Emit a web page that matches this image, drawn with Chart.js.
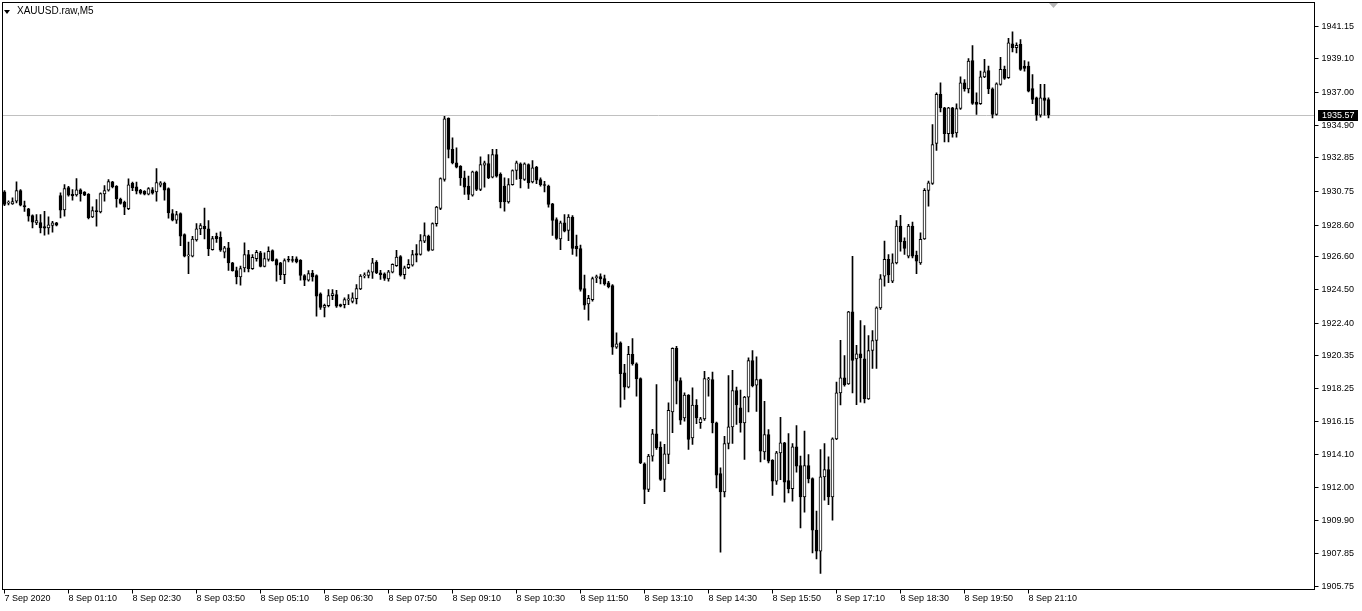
<!DOCTYPE html>
<html>
<head>
<meta charset="utf-8">
<title>XAUUSD.raw,M5</title>
<script src="https://cdn.jsdelivr.net/npm/chart.js@4.4.0/dist/chart.umd.min.js"></script>
<style>
    html, body { margin: 0; padding: 0; background: #fff; }
    #wrap { position: relative; width: 1362px; height: 611px; }
    #priceChart { display: block; }
    #symbol { position: absolute; left: 17px; top: 5px; font: 10px "Liberation Sans", Arial, sans-serif; color: #000; white-space: nowrap; }
    #arrow { position: absolute; left: 4px; top: 10px; width: 0; height: 0;
        border-left: 3.5px solid transparent; border-right: 3.5px solid transparent; border-top: 4px solid #000; }
</style>
</head>
<body>
<div id="wrap">
    <canvas id="priceChart" width="1362" height="611"></canvas>
    <div id="arrow"></div>
    <div id="symbol">XAUUSD.raw,M5</div>
</div>
<script>
// M5 candles (first bar 7 Sep 23:50)
const opens = [
    1930.70,1929.99,1929.94,1930.11,1930.78,1929.83,1929.62,1929.20,1928.74,1928.76,
    1928.50,1928.42,1928.57,1928.74,1930.46,1929.56,1930.97,1930.55,1930.51,1930.82,
    1930.68,1930.55,1929.12,1929.52,1929.43,1930.57,1930.80,1931.33,1931.05,1930.25,
    1930.04,1929.64,1931.24,1931.01,1930.80,1930.74,1930.55,1930.82,1930.70,1931.12,
    1931.24,1930.91,1929.33,1928.91,1929.33,1928.00,1926.65,1926.63,1927.66,1928.36,
    1928.52,1928.36,1927.05,1927.89,1927.83,1926.88,1927.16,1926.21,1925.72,1925.32,
    1925.89,1926.73,1925.85,1926.48,1926.84,1925.99,1926.42,1926.99,1926.42,1926.21,
    1925.47,1926.42,1926.38,1926.46,1926.37,1925.41,1925.11,1925.57,1925.41,1924.25,
    1923.40,1923.51,1924.14,1924.20,1923.57,1923.57,1923.85,1923.78,1923.94,1924.57,
    1925.39,1925.41,1925.62,1926.25,1925.58,1925.52,1925.20,1925.62,1926.04,1926.61,
    1925.47,1925.90,1926.06,1926.80,1926.74,1927.58,1927.90,1927.01,1928.68,1929.65,
    1931.48,1935.34,1933.38,1932.53,1932.32,1931.58,1931.06,1930.49,1931.96,1930.85,
    1932.39,1932.49,1931.63,1933.06,1931.80,1931.06,1930.07,1931.16,1932.05,1932.47,
    1931.48,1932.43,1931.33,1932.26,1931.48,1931.14,1931.06,1929.94,1928.95,1927.73,
    1928.74,1928.26,1929.10,1927.27,1927.12,1924.59,1923.62,1923.89,1925.28,1925.35,
    1925.22,1924.95,1924.78,1920.88,1921.16,1919.26,1918.35,1920.42,1919.83,1918.90,
    1913.51,1911.88,1913.99,1915.40,1914.56,1912.52,1914.10,1916.79,1920.80,1918.77,
    1916.41,1917.85,1915.15,1917.22,1916.10,1916.35,1918.81,1918.83,1916.09,1912.89,
    1911.73,1914.79,1915.84,1918.14,1917.04,1916.09,1917.72,1920.03,1918.47,1918.83,
    1914.26,1915.36,1913.73,1912.41,1914.20,1914.83,1912.45,1911.94,1914.58,1913.40,
    1911.42,1913.40,1912.57,1909.31,1907.98,1912.68,1913.14,1911.42,1915.08,1917.99,
    1918.94,1918.56,1923.11,1920.14,1920.46,1920.14,1917.61,1920.67,1921.30,1923.36,
    1925.37,1926.43,1925.06,1926.21,1928.53,1927.58,1926.64,1928.53,1926.70,1926.21,
    1927.73,1930.79,1931.23,1933.76,1936.86,1936.01,1934.37,1936.01,1934.43,1935.97,
    1937.59,1937.21,1939.00,1936.37,1936.27,1937.97,1938.37,1937.21,1935.59,1937.49,
    1938.44,1937.91,1940.06,1939.81,1940.02,1938.65,1938.65,1937.23,1936.65,1935.55,
    1936.65,1936.54
];
const highs = [
    1930.78,1930.13,1930.32,1931.33,1930.84,1930.11,1929.66,1929.24,1929.26,1929.26,
    1929.47,1929.12,1928.84,1928.78,1930.63,1931.16,1931.05,1930.84,1931.54,1930.89,
    1930.72,1930.59,1929.75,1930.21,1930.63,1931.10,1931.48,1931.37,1931.10,1930.30,
    1930.11,1931.52,1931.31,1931.31,1930.86,1930.78,1930.97,1930.97,1932.17,1931.35,
    1931.31,1930.95,1929.58,1929.47,1929.37,1928.04,1927.53,1927.89,1928.69,1928.69,
    1929.68,1928.88,1927.89,1928.10,1928.17,1927.26,1927.51,1926.25,1925.95,1926.00,
    1927.47,1927.01,1926.73,1927.01,1926.94,1926.84,1927.22,1927.03,1926.46,1926.25,
    1926.46,1926.63,1926.63,1926.59,1926.42,1925.47,1925.72,1925.74,1925.45,1924.31,
    1923.61,1924.52,1924.52,1924.48,1923.61,1924.00,1924.21,1924.31,1924.84,1925.47,
    1925.58,1925.75,1926.49,1926.36,1925.73,1925.58,1925.73,1926.15,1927.01,1926.67,
    1926.00,1926.42,1927.01,1927.37,1928.00,1928.74,1927.96,1928.74,1929.79,1931.58,
    1935.48,1935.38,1934.11,1933.48,1932.36,1932.01,1931.69,1932.01,1932.01,1932.91,
    1932.64,1933.06,1933.38,1933.38,1931.90,1931.58,1931.54,1932.09,1932.64,1932.53,
    1932.53,1932.47,1932.68,1932.32,1931.58,1931.37,1931.12,1929.98,1929.06,1928.85,
    1929.27,1929.27,1929.20,1927.96,1927.33,1925.43,1924.15,1925.31,1925.43,1925.52,
    1925.43,1925.05,1924.84,1921.79,1921.22,1919.79,1920.94,1921.43,1919.89,1918.94,
    1913.57,1914.10,1915.68,1918.52,1914.90,1914.73,1917.36,1920.84,1920.94,1918.94,
    1917.99,1917.89,1918.31,1917.57,1916.45,1919.36,1918.98,1919.30,1916.14,1913.25,
    1915.25,1919.09,1919.42,1918.35,1918.16,1917.78,1920.20,1920.67,1920.27,1918.87,
    1917.46,1915.67,1913.78,1914.30,1916.45,1914.87,1915.42,1914.79,1915.92,1913.99,
    1915.57,1914.09,1912.62,1910.51,1914.41,1914.79,1913.94,1915.15,1918.68,1921.32,
    1920.35,1923.15,1926.63,1921.00,1922.56,1922.25,1921.61,1921.93,1923.43,1925.47,
    1927.58,1926.74,1926.78,1928.89,1929.21,1927.79,1928.64,1928.79,1926.95,1928.11,
    1930.91,1931.38,1934.96,1936.96,1937.59,1936.05,1936.05,1936.05,1936.27,1937.97,
    1937.80,1939.13,1939.95,1936.96,1938.33,1939.07,1938.65,1937.28,1937.59,1939.21,
    1938.65,1940.40,1940.82,1940.12,1940.33,1939.00,1938.92,1938.12,1936.69,1937.49,
    1937.49,1936.65
];
const lows = [
    1929.83,1929.87,1929.90,1930.00,1929.81,1929.47,1928.84,1928.42,1928.63,1928.10,
    1927.96,1928.02,1928.15,1928.55,1929.05,1929.16,1930.42,1930.17,1930.42,1930.11,
    1930.46,1928.99,1929.07,1928.53,1929.37,1930.11,1930.74,1930.95,1929.73,1929.92,
    1929.26,1929.58,1930.78,1930.57,1930.55,1930.51,1930.51,1930.55,1930.11,1931.01,
    1930.17,1929.03,1928.86,1928.70,1927.30,1926.59,1925.53,1926.59,1927.58,1928.00,
    1927.72,1926.67,1927.01,1927.51,1926.94,1926.52,1925.74,1925.68,1924.88,1924.80,
    1925.64,1925.64,1925.79,1926.31,1925.95,1925.95,1926.31,1926.31,1925.05,1925.15,
    1924.90,1926.27,1926.25,1926.21,1925.11,1924.77,1925.05,1925.05,1922.84,1923.26,
    1922.79,1923.42,1923.89,1923.40,1923.42,1923.36,1923.57,1923.68,1923.62,1924.51,
    1925.26,1925.26,1925.22,1925.52,1925.16,1925.10,1925.05,1925.58,1925.98,1925.37,
    1925.20,1925.85,1926.00,1926.27,1926.70,1927.48,1926.95,1926.99,1928.53,1929.58,
    1931.37,1932.85,1932.47,1932.22,1931.10,1930.53,1930.21,1930.43,1930.78,1930.78,
    1931.00,1931.54,1931.58,1931.63,1929.69,1929.48,1929.98,1931.12,1931.48,1930.95,
    1931.42,1930.91,1931.27,1931.21,1931.06,1930.70,1929.73,1927.94,1927.69,1927.05,
    1928.17,1927.62,1926.74,1926.63,1924.42,1923.26,1922.59,1923.79,1924.95,1924.88,
    1924.80,1924.63,1920.42,1920.80,1917.09,1917.57,1918.31,1919.74,1917.78,1913.51,
    1910.98,1911.74,1913.68,1914.41,1912.45,1911.74,1913.51,1915.47,1917.30,1915.99,
    1916.20,1914.41,1914.73,1916.04,1915.74,1916.25,1917.78,1915.46,1911.98,1907.92,
    1911.42,1914.45,1914.79,1915.99,1915.50,1913.78,1916.79,1918.37,1916.82,1913.63,
    1913.78,1913.57,1911.50,1912.20,1912.51,1911.08,1911.67,1911.14,1912.98,1909.46,
    1910.45,1912.30,1907.88,1907.50,1906.57,1911.21,1910.93,1909.94,1915.04,1917.23,
    1918.41,1918.52,1917.99,1917.25,1917.40,1917.36,1917.57,1919.53,1919.53,1923.26,
    1924.74,1924.95,1924.95,1926.15,1926.95,1926.74,1926.53,1926.53,1925.52,1926.11,
    1927.69,1929.80,1931.17,1933.32,1935.76,1933.86,1933.86,1934.16,1934.16,1935.91,
    1937.07,1936.96,1936.22,1935.59,1936.22,1937.91,1936.90,1935.38,1935.55,1937.45,
    1937.80,1937.87,1939.55,1939.49,1938.37,1938.33,1937.02,1936.27,1935.21,1935.42,
    1935.55,1935.38
];
const closes = [
    1929.90,1930.00,1930.09,1930.78,1929.85,1929.75,1929.16,1928.78,1928.88,1928.42,
    1928.40,1928.61,1928.74,1928.59,1929.54,1930.91,1930.49,1930.44,1930.82,1930.59,
    1930.49,1929.07,1929.52,1929.45,1930.59,1930.78,1931.35,1931.01,1930.25,1929.96,
    1929.73,1931.14,1930.95,1930.74,1930.61,1930.55,1930.91,1930.61,1931.29,1931.27,
    1930.80,1929.37,1928.91,1929.26,1927.89,1926.63,1926.70,1927.72,1928.36,1928.57,
    1928.36,1927.09,1927.74,1927.74,1927.01,1927.16,1926.21,1925.72,1925.32,1925.85,
    1926.73,1925.85,1926.56,1926.88,1925.99,1926.48,1926.94,1926.35,1926.06,1925.47,
    1926.35,1926.38,1926.36,1926.27,1925.41,1925.11,1925.53,1925.32,1924.10,1923.40,
    1923.53,1924.14,1924.27,1923.47,1923.47,1923.89,1923.93,1924.00,1924.59,1925.37,
    1925.41,1925.64,1926.21,1925.58,1925.47,1925.22,1925.64,1926.11,1926.57,1925.43,
    1925.90,1926.11,1926.74,1926.70,1927.62,1927.94,1926.99,1928.70,1929.73,1931.54,
    1935.31,1933.38,1932.53,1932.26,1931.58,1930.99,1930.53,1931.96,1930.85,1932.43,
    1932.53,1931.58,1933.06,1931.69,1930.07,1930.07,1931.16,1932.05,1932.53,1931.54,
    1932.47,1931.27,1932.22,1931.44,1931.16,1931.10,1929.90,1928.89,1927.75,1928.74,
    1928.21,1929.10,1927.12,1927.10,1924.53,1923.54,1923.96,1925.22,1925.30,1925.20,
    1924.88,1924.70,1920.88,1921.09,1919.20,1918.35,1920.42,1919.83,1918.88,1913.57,
    1911.88,1913.99,1915.40,1914.52,1912.52,1914.14,1916.88,1920.80,1918.73,1916.27,
    1917.85,1915.05,1917.22,1916.41,1916.35,1918.90,1918.87,1916.09,1912.79,1911.73,
    1914.79,1915.84,1918.14,1917.23,1916.09,1917.72,1920.03,1918.45,1918.83,1914.30,
    1915.36,1913.67,1912.41,1914.20,1914.83,1912.34,1911.92,1914.58,1913.35,1911.42,
    1913.40,1912.55,1909.31,1907.98,1912.68,1913.14,1911.42,1915.08,1917.99,1918.94,
    1918.50,1923.11,1920.05,1920.46,1920.20,1917.61,1920.67,1921.30,1923.36,1925.20,
    1926.43,1925.44,1926.21,1928.53,1927.54,1927.12,1928.53,1926.64,1926.32,1927.69,
    1930.79,1931.27,1933.69,1936.86,1936.01,1934.37,1936.01,1934.37,1935.97,1937.59,
    1937.21,1938.96,1936.29,1936.22,1937.97,1938.29,1937.21,1935.59,1937.53,1938.44,
    1937.87,1940.12,1939.81,1939.97,1938.44,1938.50,1937.07,1936.54,1935.55,1936.65,
    1936.48,1935.57
];

// axis labels as printed on the chart
const timeTicks = [
    "7 Sep 2020", "8 Sep 01:10", "8 Sep 02:30", "8 Sep 03:50", "8 Sep 05:10", "8 Sep 06:30",
    "8 Sep 07:50", "8 Sep 09:10", "8 Sep 10:30", "8 Sep 11:50", "8 Sep 13:10", "8 Sep 14:30",
    "8 Sep 15:50", "8 Sep 17:10", "8 Sep 18:30", "8 Sep 19:50", "8 Sep 21:10"
];
const priceTicks = [
    1941.15, 1939.10, 1937.00, 1934.90, 1932.85, 1930.75, 1928.60, 1926.60, 1924.50,
    1922.40, 1920.35, 1918.25, 1916.15, 1914.10, 1912.00, 1909.90, 1907.85, 1905.75
];
const lastPrice = 1935.57;
const priceMin = 1905.56;
const priceMax = 1942.67;
const tickEvery = 16;   // bars between time labels
const slotCount = 328;  // bars that fit the window, incl. the empty shift area

// 5 minute bar times starting 23:50
const barLabels = [];
for (let i = 0; i < slotCount; i++) {
    let m = (23 * 60 + 50 + i * 5) % 1440;
    barLabels.push(String(Math.floor(m / 60)).padStart(2, "0") + ":" + String(m % 60).padStart(2, "0"));
}

const bodies = opens.map((o, i) => [o, closes[i]]);
const wicks = lows.map((l, i) => [l, highs[i]]);
const bodyFill = opens.map((o, i) => closes[i] >= o ? "#ffffff" : "#000000");

Chart.defaults.font.family = '"Liberation Sans", Arial, sans-serif';
Chart.defaults.font.size = 9;
Chart.defaults.color = "#000";

const mtPlugin = {
    id: "mtDecor",
    beforeDatasetsDraw(chart) {
        const { ctx, chartArea: a, scales: { y } } = chart;
        let py = Math.round(y.getPixelForValue(lastPrice)) + 0.5;
        ctx.save();
        ctx.strokeStyle = "#c0c0c0";
        ctx.lineWidth = 1;
        ctx.beginPath();
        ctx.moveTo(a.left, py);
        ctx.lineTo(a.right, py);
        ctx.stroke();
        ctx.restore();
    },
    afterDraw(chart) {
        const { ctx, chartArea: a, scales: { x, y } } = chart;
        ctx.save();
        ctx.strokeStyle = "#000";
        ctx.lineWidth = 1;
        ctx.strokeRect(a.left, a.top, a.right - a.left, a.bottom - a.top);

        // chart shift marker
        let sx = Math.round(x.getPixelForValue(opens.length)) + 0.5;
        ctx.fillStyle = "#b8b8b8";
        ctx.beginPath();
        ctx.moveTo(sx - 4.5, a.top + 0.5);
        ctx.lineTo(sx + 4.5, a.top + 0.5);
        ctx.lineTo(sx, a.top + 5.5);
        ctx.closePath();
        ctx.fill();

        // bid label
        let py = Math.round(y.getPixelForValue(lastPrice));
        ctx.fillStyle = "#000";
        ctx.fillRect(Math.round(a.right) + 3, py - 5, 40, 11);
        ctx.fillStyle = "#fff";
        ctx.font = '9px "Liberation Sans", Arial, sans-serif';
        ctx.textBaseline = "middle";
        ctx.fillText(lastPrice.toFixed(2), Math.round(a.right) + 7, py + 0.5);
        ctx.restore();
    }
};

let ctx = document.getElementById("priceChart").getContext("2d");
let priceChart = new Chart(ctx, {
    type: "bar",
    data: {
        labels: barLabels,
        datasets: [
            {
                label: "body",
                data: bodies,
                backgroundColor: bodyFill,
                borderColor: "#000",
                borderWidth: 1,
                borderSkipped: false,
                barThickness: 3,
                minBarLength: 1,
                grouped: false,
                order: 0
            },
            {
                label: "wick",
                data: wicks,
                backgroundColor: "#000",
                borderWidth: 0,
                barThickness: 1,
                minBarLength: 1,
                grouped: false,
                order: 1
            }
        ]
    },
    options: {
        responsive: false,
        animation: false,
        layout: { padding: { left: 2.5, top: 2.5, right: 0, bottom: 0 } },
        plugins: { legend: { display: false }, tooltip: { enabled: false } },
        scales: {
            x: {
                offset: true,
                afterFit: s => { s.height = 21.5; s.paddingLeft = 0; s.paddingRight = 0; },
                border: { display: false },
                grid: {
                    drawOnChartArea: false,
                    offset: false,
                    tickLength: 4,
                    color: c => (c.index % tickEvery === 0 && c.index / tickEvery < timeTicks.length) ? "#000" : "rgba(0,0,0,0)"
                },
                ticks: {
                    autoSkip: false,
                    maxRotation: 0,
                    minRotation: 0,
                    align: "start",
                    padding: 0,
                    callback: (v, i) => (i % tickEvery === 0 && i / tickEvery < timeTicks.length) ? timeTicks[i / tickEvery] : ""
                }
            },
            y: {
                position: "right",
                min: priceMin,
                max: priceMax,
                afterBuildTicks: s => { s.ticks = priceTicks.map(v => ({ value: v })); },
                afterFit: s => { s.width = 47.5; s.paddingTop = 0; s.paddingBottom = 0; },
                border: { display: false },
                grid: { drawOnChartArea: false, tickLength: 4, color: "#000" },
                ticks: { padding: 3, callback: v => Number(v).toFixed(2) }
            }
        }
    },
    plugins: [mtPlugin]
});
</script>
</body>
</html>
